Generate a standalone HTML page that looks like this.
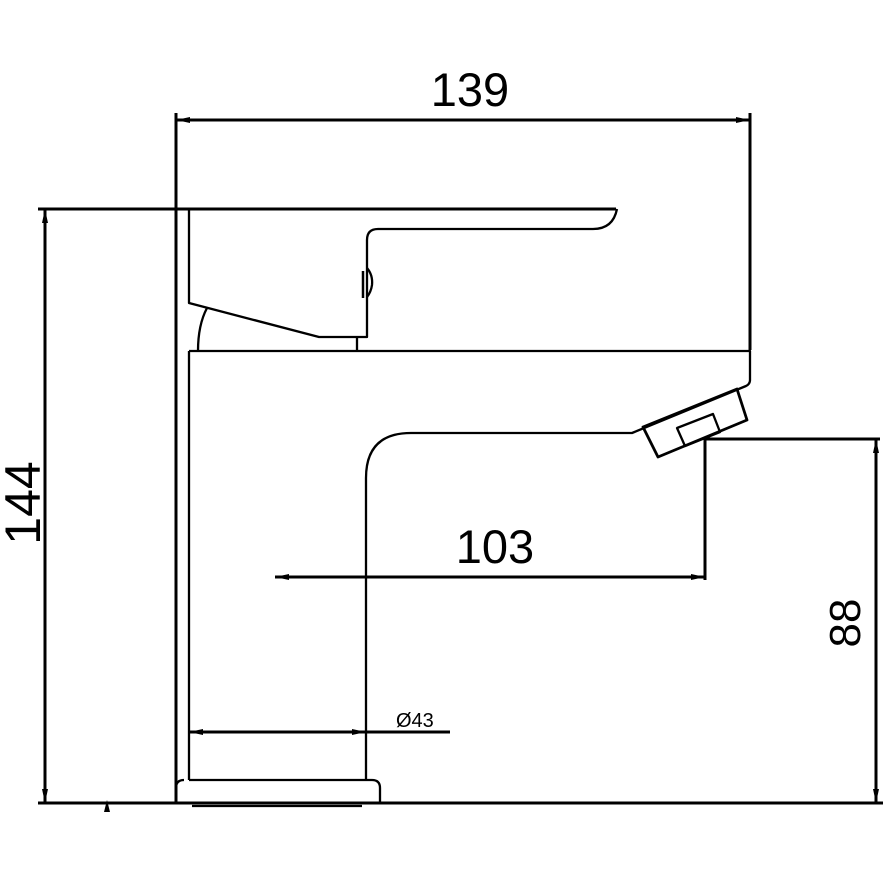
<!DOCTYPE html>
<html><head><style>html,body{margin:0;padding:0;background:#fff}</style></head>
<body>
<svg width="883" height="883" viewBox="0 0 883 883" xmlns="http://www.w3.org/2000/svg">
<rect width="883" height="883" fill="#fff"/>
<g fill="none" stroke="#000" stroke-linejoin="round">
<g stroke-width="3">
<line x1="176" y1="120" x2="750" y2="120"/>
<line x1="176" y1="113" x2="176" y2="803"/>
<line x1="750" y1="113" x2="750" y2="350"/>
<line x1="45" y1="209" x2="45" y2="803"/>
<line x1="38" y1="209" x2="616" y2="209"/>
<line x1="38" y1="803" x2="883" y2="803"/>
<line x1="275" y1="577" x2="705" y2="577"/>
<line x1="705" y1="439" x2="705" y2="580"/>
<line x1="705" y1="439" x2="880" y2="439"/>
<line x1="876" y1="439" x2="876" y2="803"/>
<line x1="189" y1="732" x2="450" y2="732"/>
</g>
<g fill="#000" stroke="none">
<polygon points="176,120 190,117 190,123"/>
<polygon points="750,120 736,117 736,123"/>
<polygon points="45,209 42,223 48,223"/>
<polygon points="45,803 42,789 48,789"/>
<polygon points="275,577 289,574 289,580"/>
<polygon points="705,577 691,574 691,580"/>
<polygon points="876,439 873,453 879,453"/>
<polygon points="876,803 873,789 879,789"/>
<polygon points="189,732 203,729 203,735"/>
<polygon points="366,732 352,729 352,735"/>
<polygon points="107,800 104,812 110,812"/>
</g>
<g stroke-width="2.3">
<path d="M189,209 L189,303 L319,337 L367,337 L367,240 Q367,229 378,229 L593,229 Q613,229 617,209"/>
<path d="M207,308 Q198,325 198,351"/>
<line x1="357" y1="337" x2="357" y2="351"/>
<path d="M367,268 Q373,275 372,285 Q371,292 367,297"/>
<line x1="363" y1="271" x2="363" y2="298" stroke-width="2.5"/>
<path d="M189,351 L750,351 L750,380 Q750,384 746,386 L632,433 L411,433 Q366,433 366,478 L366,780"/>
<line x1="189" y1="351" x2="189" y2="780"/>
<path d="M189,780 L372,780 Q380,780 380,788 L380,803 M176,803 L176,788 Q176,780 184,780"/>
<line x1="192" y1="806" x2="362" y2="806"/>
<polygon points="643,427 737,389 747,420 658,457" stroke-width="2.8"/>
<polygon points="677,428 713,414 720,432 685,446"/>
</g>
</g>
<g font-family="Liberation Sans, sans-serif" fill="#000">
<text x="470" y="106" font-size="47" text-anchor="middle">139</text>
<text x="495" y="563" font-size="47" text-anchor="middle">103</text>
<text transform="translate(40,503) rotate(-90)" font-size="50" text-anchor="middle">144</text>
<text transform="translate(860,623) rotate(-90)" font-size="44" text-anchor="middle">88</text>
<text x="396" y="727" font-size="20">Ø43</text>
</g>
</svg>
</body></html>
